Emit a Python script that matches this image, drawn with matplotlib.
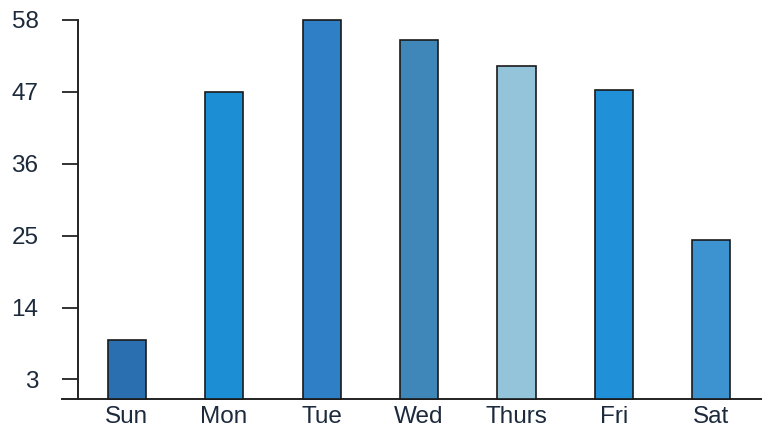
import matplotlib.pyplot as plt

days = ["Sun", "Mon", "Tue", "Wed", "Thurs", "Fri", "Sat"]
values = [9, 47, 58, 55, 51, 47.3, 24.3]
colors = ["#2a6faf", "#1c8fd4", "#2f7fc6", "#3f86b9", "#93c4da", "#2090d8", "#3d92d0"]
yticks = [3, 14, 25, 36, 47, 58]

plt.rcParams['font.family'] = ['Liberation Sans', 'DejaVu Sans']
text_color = "#1c2a3c"

fig = plt.figure(figsize=(7.68, 4.28), dpi=100)
# axes box in pixels: left 62, right 761, top 20, bottom 399
ax = fig.add_axes([62 / 768, 1 - 399 / 428, 699 / 768, 379 / 428])

x = range(len(days))
ax.bar(x, values, width=0.39, color=colors, edgecolor="#1a1a1a",
       linewidth=1.2, clip_on=False, zorder=3)

ax.set_xlim(-0.662, 6.508)
ax.set_ylim(0, 58)

ax.spines['top'].set_visible(False)
ax.spines['right'].set_visible(False)
ax.spines['left'].set_position(('axes', 16 / 699))
ax.spines['left'].set_linewidth(1.4)
ax.spines['bottom'].set_linewidth(1.4)
ax.spines['left'].set_color("#222222")
ax.spines['bottom'].set_color("#222222")

ax.set_yticks(yticks)
ax.set_yticklabels([str(t) for t in yticks])
ax.set_xticks(list(x))
ax.set_xticklabels(days)

ax.tick_params(axis='y', length=11.5, width=1.3, color="#222222",
               labelsize=17.5, labelcolor=text_color, pad=17)
ax.tick_params(axis='x', length=0, labelsize=17.5, labelcolor=text_color, pad=5)

fig.savefig("out.png", dpi=100)
